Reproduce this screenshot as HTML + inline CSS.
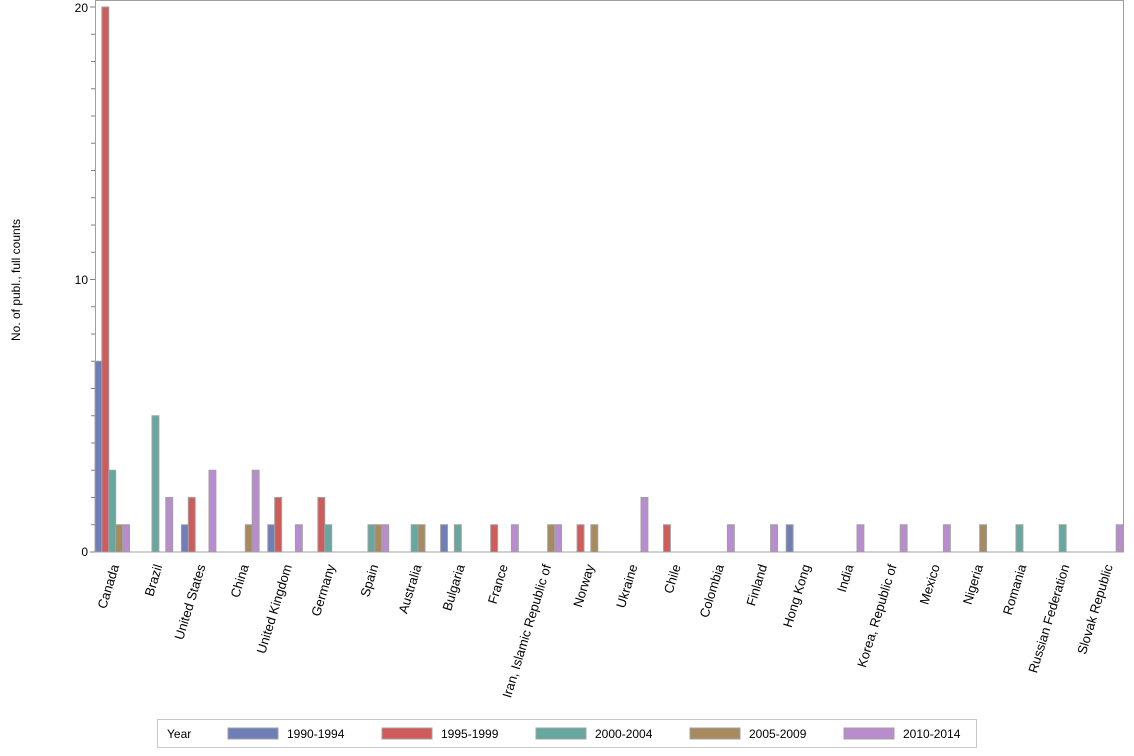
<!DOCTYPE html>
<html><head><meta charset="utf-8"><style>body{margin:0;background:#fff}svg{display:block;font-family:"Liberation Sans",Arial,sans-serif}</style></head>
<body>
<svg width="1134" height="756" xmlns="http://www.w3.org/2000/svg" id="s">
<rect x="95.5" y="0.5" width="1028" height="551.5" fill="none" stroke="#a0a0a0"/>
<g id="bars" stroke="#a0a0a0" stroke-width="1"></g>
<g id="ax" stroke="#808080"></g>
<g font-size="12" fill="#000">
<text x="88" y="12" text-anchor="end">20</text>
<text x="88" y="284" text-anchor="end">10</text>
<text x="88" y="556" text-anchor="end">0</text>
<text transform="translate(20,280) rotate(-90)" text-anchor="middle">No. of publ., full counts</text>
</g>
<g id="labels" font-size="13"></g>
<rect x="157.5" y="719.5" width="819" height="28" fill="#fff" stroke="#c8c8c8"/>
<g font-size="12">
<text x="167" y="738">Year</text>
<rect x="228" y="728" width="50" height="11" fill="#6f7eb6" stroke="#a0a0a0"/><text x="287" y="738">1990-1994</text>
<rect x="382" y="728" width="50" height="11" fill="#d05b5b" stroke="#a0a0a0"/><text x="441" y="738">1995-1999</text>
<rect x="536" y="728" width="50" height="11" fill="#66a89f" stroke="#a0a0a0"/><text x="595" y="738">2000-2004</text>
<rect x="690" y="728" width="50" height="11" fill="#a88a5f" stroke="#a0a0a0"/><text x="749" y="738">2005-2009</text>
<rect x="844" y="728" width="50" height="11" fill="#b98ccd" stroke="#a0a0a0"/><text x="903" y="738">2010-2014</text>
</g>
</svg>
<script>
var ns="http://www.w3.org/2000/svg";
var cols=["#6f7eb6","#d05b5b","#66a89f","#a88a5f","#b98ccd"];
var data=[["Canada",[7,20,3,1,1]],["Brazil",[0,0,5,0,2]],["United States",[1,2,0,0,3]],["China",[0,0,0,1,3]],["United Kingdom",[1,2,0,0,1]],["Germany",[0,2,1,0,0]],["Spain",[0,0,1,1,1]],["Australia",[0,0,1,1,0]],["Bulgaria",[1,0,1,0,0]],["France",[0,1,0,0,1]],["Iran, Islamic Republic of",[0,0,0,1,1]],["Norway",[0,1,0,1,0]],["Ukraine",[0,0,0,0,2]],["Chile",[0,1,0,0,0]],["Colombia",[0,0,0,0,1]],["Finland",[0,0,0,0,1]],["Hong Kong",[1,0,0,0,0]],["India",[0,0,0,0,1]],["Korea, Republic of",[0,0,0,0,1]],["Mexico",[0,0,0,0,1]],["Nigeria",[0,0,0,1,0]],["Romania",[0,0,1,0,0]],["Russian Federation",[0,0,1,0,0]],["Slovak Republic",[0,0,0,0,1]]];
var B=document.getElementById("bars"),L=document.getElementById("labels"),A=document.getElementById("ax");
var y0=552,u=27.25,bw=6.9,sp=43.2,x0=95;
data.forEach(function(d,i){
 var gx=x0+i*sp;
 d[1].forEach(function(v,j){ if(!v)return;
  var r=document.createElementNS(ns,"rect");var h=v*u;
  r.setAttribute("x",gx+j*bw);r.setAttribute("y",y0-h);r.setAttribute("width",bw);r.setAttribute("height",h);r.setAttribute("fill",cols[j]);B.appendChild(r);});
 var t=document.createElementNS(ns,"text");var cx=gx+17.25+7;
 t.setAttribute("transform","translate("+cx+",566) rotate(-73)");t.setAttribute("text-anchor","end");t.textContent=d[0];L.appendChild(t);
});
for(var k=0;k<=20;k++){var l=document.createElementNS(ns,"line");var y=y0-k*u;l.setAttribute("x1",k%10?91:90);l.setAttribute("x2",95);l.setAttribute("y1",y);l.setAttribute("y2",y);A.appendChild(l);}
</script>
</body></html>
